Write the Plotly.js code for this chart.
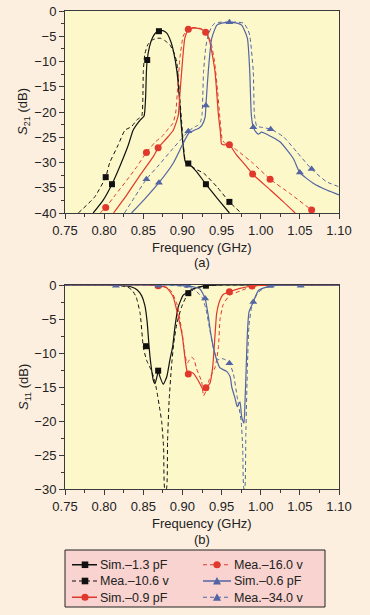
<!DOCTYPE html>
<html>
<head>
<meta charset="utf-8">
<script src="https://cdn.plot.ly/plotly-3.0.1.min.js"></script>
<style>html,body{margin:0;padding:0;background:#fcefe0;}#chart{width:370px;height:615px;}</style>
</head>
<body>
<div id="chart"></div>
<script>
// ---------- S21 (top chart) ----------
const s21_sim13_x = [0.786,0.799,0.810,0.820,0.831,0.837,0.846,0.851,0.853,0.854,0.855,0.858,0.862,0.866,0.870,0.875,0.880,0.885,0.889,0.893,0.896,0.898,0.901,0.903,0.905,0.9075,0.918,0.930,0.945,0.960];
const s21_sim13_y = [-40,-37.4,-34.3,-30.8,-26.5,-23.6,-21.6,-20.8,-17,-12,-9.7,-7,-5.2,-4.3,-4.0,-3.9,-4.4,-6.0,-8.3,-12,-17,-21.6,-26.9,-29.5,-30.2,-30.3,-31.8,-34.3,-37.2,-40];
const s21_sim13_mx = [0.810,0.855,0.870,0.930];
const s21_sim13_my = [-34.3,-9.7,-4.0,-34.3];

const s21_mea106_x = [0.767,0.788,0.802,0.807,0.818,0.8266,0.835,0.8415,0.848,0.8495,0.850,0.852,0.856,0.862,0.868,0.872,0.877,0.884,0.889,0.8926,0.8947,0.897,0.899,0.901,0.903,0.9075,0.918,0.927,0.944,0.960,0.975];
const s21_mea106_y = [-40,-36.8,-32.9,-30.1,-26.5,-23.6,-22.9,-21.6,-20.8,-17,-12,-8.5,-6.6,-5.7,-5.4,-5.4,-5.8,-6.7,-8.2,-10,-13.3,-18,-22,-26,-29,-30.2,-31.4,-32.1,-34.8,-37.8,-40];
const s21_mea106_mx = [0.802,0.9075,0.960];
const s21_mea106_my = [-32.9,-30.2,-37.8];

const s21_sim09_x = [0.812,0.829,0.846,0.863,0.869,0.880,0.8883,0.893,0.8947,0.897,0.899,0.903,0.9075,0.913,0.918,0.924,0.9296,0.935,0.9416,0.946,0.9485,0.950,0.953,0.960,0.969,0.982,0.9897,1.012,1.029,1.044];
const s21_sim09_y = [-40,-36.4,-32.5,-28.8,-27.1,-25.2,-23.6,-21.6,-20.6,-16,-12,-5.4,-3.6,-3.4,-3.4,-3.6,-4.2,-6.1,-12,-20.6,-24,-26.3,-26.5,-26.5,-28.5,-30.8,-32.3,-35.4,-37.8,-40];
const s21_sim09_mx = [0.869,0.9075,0.960,0.9897];
const s21_sim09_my = [-27.1,-3.6,-26.5,-32.3];

const s21_mea160_x = [0.795,0.802,0.815,0.829,0.842,0.854,0.865,0.8755,0.882,0.888,0.8915,0.894,0.897,0.901,0.906,0.912,0.918,0.924,0.9297,0.936,0.941,0.945,0.948,0.951,0.955,0.960,0.969,0.9905,1.012,1.037,1.065,1.0715];
const s21_mea160_y = [-40,-38.9,-36.3,-33.5,-30.8,-28.0,-26.0,-24.6,-23.3,-22.2,-20,-15,-9,-5,-3.6,-3.3,-3.3,-3.5,-4.2,-6,-10,-16,-21.5,-25.5,-26.3,-26.5,-27.5,-30.2,-33.3,-36.1,-39.4,-40];
const s21_mea160_mx = [0.802,0.854,0.9297,1.012,1.065];
const s21_mea160_my = [-38.9,-28.0,-4.2,-33.3,-39.4];

const s21_sim06_x = [0.835,0.852,0.870,0.888,0.900,0.908,0.915,0.921,0.925,0.929,0.930,0.933,0.9374,0.944,0.950,0.960,0.970,0.9757,0.983,0.986,0.988,0.9905,0.994,0.997,1.001,1.005,1.0245,1.0416,1.050,1.067,1.085,1.10];
const s21_sim06_y = [-40,-37.2,-34.0,-30.2,-26.5,-24.2,-23.6,-23.2,-22.6,-21,-18.7,-12,-5.4,-2.8,-2.4,-2.25,-2.4,-2.8,-5.4,-12,-20.6,-23.0,-24.0,-24.4,-24.0,-24.2,-25.9,-29.2,-32.0,-34.1,-35.5,-36.4];
const s21_sim06_mx = [0.870,0.930,0.960,0.9905,1.050];
const s21_sim06_my = [-34.0,-18.7,-2.25,-23.0,-32.0];

const s21_mea340_x = [0.826,0.840,0.854,0.870,0.888,0.903,0.9075,0.915,0.920,0.923,0.925,0.927,0.930,0.933,0.937,0.9415,0.950,0.960,0.970,0.978,0.983,0.986,0.9905,0.992,0.995,1.000,1.0127,1.029,1.046,1.065,1.084,1.10];
const s21_mea340_y = [-40,-36.6,-33.3,-30.5,-27.2,-24.6,-23.8,-23.0,-22.6,-22.0,-20.6,-12,-7,-4.8,-3.2,-2.4,-2.2,-2.2,-2.2,-2.4,-3.5,-4.8,-12,-20.6,-22.8,-23.0,-23.4,-24.9,-27.9,-31.3,-33.8,-34.8];
const s21_mea340_mx = [0.854,0.9075,1.0127,1.065];
const s21_mea340_my = [-33.3,-23.8,-23.4,-31.3];

// ---------- S11 (bottom chart) ----------
const s11_sim13_x = [0.75,0.80,0.825,0.835,0.842,0.848,0.852,0.855,0.857,0.859,0.8628,0.865,0.868,0.869,0.8713,0.8755,0.880,0.884,0.8875,0.8905,0.8947,0.901,0.9075,0.915,0.930,0.95,1.10];
const s11_sim13_y = [0,0,-0.1,-0.3,-0.7,-1.6,-3.0,-5.5,-8.5,-11,-14,-14.5,-13.2,-12.6,-13.5,-14.6,-13.5,-11,-9.1,-6.1,-3.2,-1.5,-1.0,-0.5,-0.1,0,0];
const s11_sim13_mx = [0.8535,0.869,0.930];
const s11_sim13_my = [-9.0,-12.6,-0.1];

const s11_mea106_x = [0.75,0.80,0.82,0.830,0.836,0.841,0.846,0.850,0.854,0.860,0.864,0.867,0.8713,0.8735,0.876,0.8775,0.8795,0.881,0.883,0.886,0.889,0.893,0.899,0.905,0.915,0.93,0.95,1.10];
const s11_mea106_y = [0,0,-0.1,-0.3,-0.8,-1.8,-4.2,-9.1,-11,-12.5,-13.8,-15.4,-18.4,-20.1,-24,-30,-30,-23,-17,-12,-8.5,-5.6,-3.2,-1.7,-0.6,-0.1,0,0];
const s11_mea106_mx = [0.9075];
const s11_mea106_my = [-1.2];

const s11_sim09_x = [0.75,0.85,0.87,0.880,0.888,0.8947,0.900,0.903,0.9055,0.9075,0.911,0.914,0.920,0.9266,0.930,0.935,0.9387,0.9415,0.9437,0.948,0.952,0.960,0.9735,0.989,1.01,1.10];
const s11_sim09_y = [0,0,-0.1,-0.4,-1.7,-4.7,-7.6,-10.5,-12.5,-13.1,-12.8,-13.0,-14,-15.4,-15.1,-14.5,-12,-7.6,-4.2,-2.2,-1.4,-1.0,-0.5,-0.15,0,0];
const s11_sim09_mx = [0.9075,0.960];
const s11_sim09_my = [-13.1,-1.0];

const s11_mea160_x = [0.75,0.85,0.875,0.885,0.8927,0.899,0.903,0.906,0.909,0.912,0.915,0.918,0.9245,0.927,0.930,0.934,0.938,0.942,0.946,0.948,0.952,0.9604,0.9735,0.989,1.01,1.10];
const s11_mea160_y = [0,0,-0.2,-0.8,-2.7,-6.6,-10,-11.5,-11,-10.6,-11,-12.3,-14.2,-16.3,-15.6,-14,-13,-12,-9.1,-5.1,-2.9,-1.5,-0.9,-0.2,0,0];
const s11_mea160_mx = [0.869,0.930,0.989];
const s11_mea160_my = [-0.1,-15.1,-0.15];

const s11_sim06_x = [0.75,0.88,0.90,0.915,0.9225,0.929,0.933,0.936,0.9394,0.9437,0.948,0.9565,0.961,0.963,0.9673,0.970,0.9735,0.9757,0.9786,0.980,0.9815,0.983,0.985,0.9905,0.997,1.012,1.03,1.10];
const s11_sim06_y = [0,0,-0.1,-0.3,-0.6,-2.0,-4.5,-7,-9.1,-11,-12.2,-12.7,-13.5,-15,-16.7,-17.9,-17.2,-19.4,-20.3,-17,-12,-7,-4,-2.5,-0.8,-0.15,0,0];
const s11_sim06_mx = [0.929,0.9905,1.012];
const s11_sim06_my = [-2.0,-2.5,-0.15];

const s11_mea340_x = [0.75,0.88,0.90,0.915,0.925,0.930,0.935,0.940,0.945,0.950,0.955,0.960,0.965,0.970,0.975,0.977,0.9785,0.9795,0.981,0.983,0.985,0.988,0.991,0.996,1.005,1.02,1.05,1.10];
const s11_mea340_y = [0,0,-0.2,-0.7,-1.8,-3.5,-6.6,-9.5,-11.0,-10.8,-11.0,-11.5,-13,-16.5,-20,-24,-30,-30,-22,-12,-6,-3.5,-2.4,-1.2,-0.4,-0.1,0,0];
const s11_mea340_mx = [0.815,0.8695,0.9075,0.960,1.051];
const s11_mea340_my = [-0.1,-0.1,-0.1,-11.5,-0.1];

// ---------- legend labels (column-major as in the figure) ----------
const legendNames = ['Sim.\u20131.3 pF','Mea.\u201310.6 v','Sim.\u20130.9 pF','Mea.\u201316.0 v','Sim.\u20130.6 pF','Mea.\u201334.0 v'];
const legendKeys = ['sim13','mea106','sim09','mea160','sim06','mea340'];

const BLACK = '#111111', RED = '#e0382c', BLUE = '#5365a3';
const DASH = '4px,3px';
const styles = {
  sim13: {color: BLACK, dash: 'solid', symbol: 'square', size: 6},
  mea106: {color: BLACK, dash: DASH, symbol: 'square', size: 6},
  sim09: {color: RED, dash: 'solid', symbol: 'circle', size: 7},
  mea160: {color: RED, dash: DASH, symbol: 'circle', size: 7},
  sim06: {color: BLUE, dash: 'solid', symbol: 'triangle-up', size: 7},
  mea340: {color: BLUE, dash: DASH, symbol: 'triangle-up', size: 7}
};

function curve(x, y, st, xa, ya) {
  return {x: x, y: y, xaxis: xa, yaxis: ya, mode: 'lines', showlegend: false, hoverinfo: 'skip',
    line: {color: st.color, width: st.dash === 'solid' ? 1.2 : 1, dash: st.dash, shape: 'spline', smoothing: 0.5}};
}
function marks(x, y, st, xa, ya) {
  return {x: x, y: y, xaxis: xa, yaxis: ya, mode: 'markers', showlegend: false, hoverinfo: 'skip',
    marker: {color: st.color, symbol: st.symbol, size: st.size}};
}

const traces = [
  curve(s21_sim13_x, s21_sim13_y, styles.sim13, 'x', 'y'), marks(s21_sim13_mx, s21_sim13_my, styles.sim13, 'x', 'y'),
  curve(s21_mea106_x, s21_mea106_y, styles.mea106, 'x', 'y'), marks(s21_mea106_mx, s21_mea106_my, styles.mea106, 'x', 'y'),
  curve(s21_sim09_x, s21_sim09_y, styles.sim09, 'x', 'y'), marks(s21_sim09_mx, s21_sim09_my, styles.sim09, 'x', 'y'),
  curve(s21_mea160_x, s21_mea160_y, styles.mea160, 'x', 'y'), marks(s21_mea160_mx, s21_mea160_my, styles.mea160, 'x', 'y'),
  curve(s21_sim06_x, s21_sim06_y, styles.sim06, 'x', 'y'), marks(s21_sim06_mx, s21_sim06_my, styles.sim06, 'x', 'y'),
  curve(s21_mea340_x, s21_mea340_y, styles.mea340, 'x', 'y'), marks(s21_mea340_mx, s21_mea340_my, styles.mea340, 'x', 'y'),

  curve(s11_sim13_x, s11_sim13_y, styles.sim13, 'x2', 'y2'), marks(s11_sim13_mx, s11_sim13_my, styles.sim13, 'x2', 'y2'),
  curve(s11_mea106_x, s11_mea106_y, styles.mea106, 'x2', 'y2'), marks(s11_mea106_mx, s11_mea106_my, styles.mea106, 'x2', 'y2'),
  curve(s11_sim09_x, s11_sim09_y, styles.sim09, 'x2', 'y2'), marks(s11_sim09_mx, s11_sim09_my, styles.sim09, 'x2', 'y2'),
  curve(s11_mea160_x, s11_mea160_y, styles.mea160, 'x2', 'y2'), marks(s11_mea160_mx, s11_mea160_my, styles.mea160, 'x2', 'y2'),
  curve(s11_sim06_x, s11_sim06_y, styles.sim06, 'x2', 'y2'), marks(s11_sim06_mx, s11_sim06_my, styles.sim06, 'x2', 'y2'),
  curve(s11_mea340_x, s11_mea340_y, styles.mea340, 'x2', 'y2'), marks(s11_mea340_mx, s11_mea340_my, styles.mea340, 'x2', 'y2')
];

const W = 370, H = 615;
const px = v => v / W;
const py = v => 1 - v / H;
const FONT = 'Liberation Sans, Arial, sans-serif';
const AX = '#3a3a3a';
function xAxis(anchor) {
  return {domain: [px(65), px(339)], anchor: anchor, range: [0.75, 1.10], tick0: 0.75, dtick: 0.05, tickformat: '.2f',
    showgrid: false, zeroline: false, showline: true, mirror: true, linecolor: AX, linewidth: 1,
    ticks: 'outside', ticklen: 5, tickcolor: AX, tickwidth: 1,
    minor: {dtick: 0.025, tick0: 0.75, ticks: 'outside', ticklen: 3, tickcolor: AX, showgrid: false},
    tickfont: {family: FONT, size: 13, color: '#222'}, fixedrange: true};
}
function yAxis(anchor, top, bottom, lo) {
  return {domain: [py(bottom), py(top)], anchor: anchor, range: [lo, 0], tick0: 0, dtick: 5,
    showgrid: false, zeroline: false, showline: true, mirror: true, linecolor: AX, linewidth: 1,
    ticks: 'outside', ticklen: 5, tickcolor: AX, tickwidth: 1,
    minor: {dtick: 2.5, tick0: 0, ticks: 'outside', ticklen: 3, tickcolor: AX, showgrid: false},
    tickfont: {family: FONT, size: 13, color: '#222'}, fixedrange: true};
}

const txt = {family: FONT, size: 13, color: '#222'};
const annotations = [
  {text: 'Frequency (GHz)', x: px(202), y: py(247)},
  {text: '(a)', x: px(202), y: py(262)},
  {text: 'Frequency (GHz)', x: px(202), y: py(523)},
  {text: '(b)', x: px(202), y: py(539)},
  {text: '<i>S</i><sub>21</sub> (dB)', x: px(23), y: py(112), textangle: -90},
  {text: '<i>S</i><sub>11</sub> (dB)', x: px(24), y: py(387), textangle: -90}
].map(a => Object.assign({xref: 'paper', yref: 'paper', showarrow: false, font: txt, xanchor: 'center', yanchor: 'middle'}, a));

// ---------- hand-built legend box (two columns, three rows) ----------
const LFS = 12.5;                 // legend font size
const rowStep = LFS * 1.3;        // Plotly line spacing for multi-line text
const midRow = 581;
const rowY = [midRow - rowStep, midRow, midRow + rowStep];
const colX = [{l0: 72, l1: 97, m: 85, t: 99}, {l0: 203, l1: 231, m: 217, t: 233}];
const shapes = [
  {type: 'rect', xref: 'paper', yref: 'paper', x0: px(65), x1: px(325), y0: py(607), y1: py(550),
   fillcolor: '#f8d3cf', line: {color: '#222', width: 1}, layer: 'below'}
];
legendKeys.forEach((k, i) => {
  const st = styles[k];
  const c = colX[Math.floor(i / 3)];
  const r = rowY[i % 3];
  shapes.push({type: 'line', xref: 'paper', yref: 'paper', x0: px(c.l0), x1: px(c.l1), y0: py(r), y1: py(r),
    line: {color: st.color, width: st.dash === 'solid' ? 1.5 : 1.2, dash: st.dash}});
  const h = st.symbol === 'square' ? 3.3 : 3.6;
  if (st.symbol === 'square') {
    shapes.push({type: 'rect', xref: 'paper', yref: 'paper', x0: px(c.m - h), x1: px(c.m + h), y0: py(r + h), y1: py(r - h),
      fillcolor: st.color, line: {width: 0}});
  } else if (st.symbol === 'circle') {
    shapes.push({type: 'circle', xref: 'paper', yref: 'paper', x0: px(c.m - h), x1: px(c.m + h), y0: py(r + h), y1: py(r - h),
      fillcolor: st.color, line: {width: 0}});
  } else {
    shapes.push({type: 'path', xref: 'paper', yref: 'paper',
      path: 'M ' + px(c.m - 4) + ',' + py(r + 3.5) + ' L ' + px(c.m + 4) + ',' + py(r + 3.5) + ' L ' + px(c.m) + ',' + py(r - 4) + ' Z',
      fillcolor: st.color, line: {width: 0}});
  }
});
[0, 1].forEach(col => {
  annotations.push({text: legendNames.slice(col * 3, col * 3 + 3).join('<br>'), xref: 'paper', yref: 'paper',
    x: px(colX[col].t), y: py(midRow), xanchor: 'left', yanchor: 'middle', align: 'left',
    showarrow: false, borderpad: 0, font: {family: FONT, size: LFS, color: '#222'}});
});

const layout = {
  width: W, height: H,
  margin: {l: 0, r: 0, t: 0, b: 0},
  paper_bgcolor: '#fcefe0',
  plot_bgcolor: '#fdf8c9',
  font: txt,
  xaxis: xAxis('y'),
  yaxis: yAxis('x', 11, 213, -40),
  xaxis2: xAxis('y2'),
  yaxis2: yAxis('x2', 285, 489, -30),
  showlegend: false,
  annotations: annotations,
  shapes: shapes
};

Plotly.newPlot('chart', traces, layout, {staticPlot: true, displayModeBar: false});
</script>
</body>
</html>
